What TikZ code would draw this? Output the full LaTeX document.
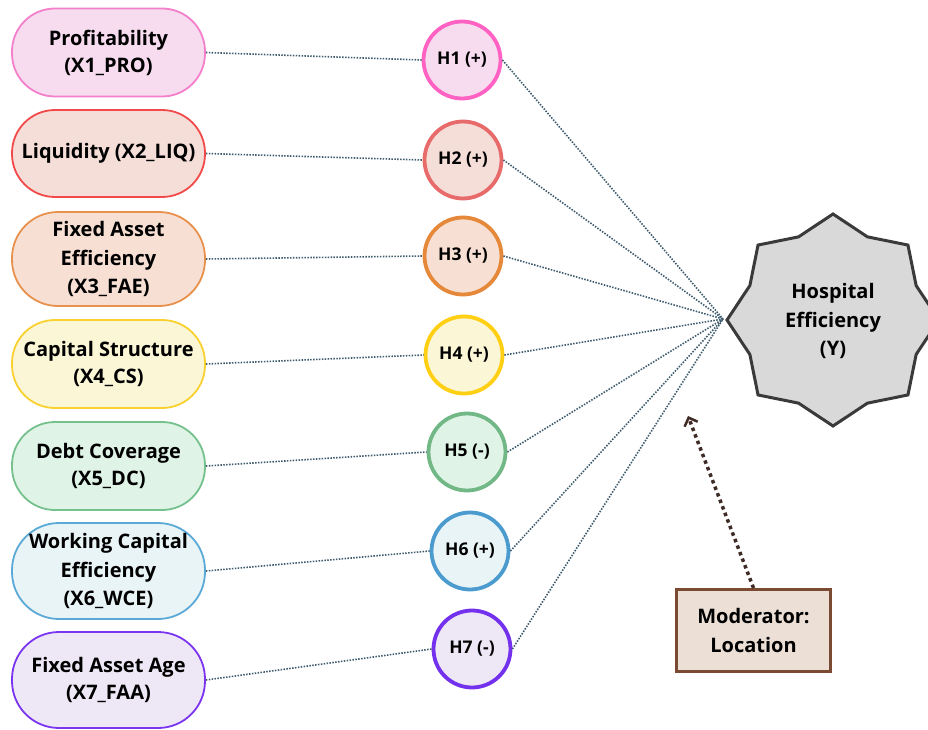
\documentclass[tikz,border=0pt]{standalone}
\usepackage{fontspec}
\setmainfont{Open Sans}
\usetikzlibrary{arrows.meta}
\definecolor{pkB}{HTML}{F47FCB}\definecolor{pkH}{HTML}{FF62C2}\definecolor{pkF}{HTML}{F6DCEE}
\definecolor{rdB}{HTML}{F24A4A}\definecolor{rdH}{HTML}{E86B6B}\definecolor{rdF}{HTML}{F5DDD8}
\definecolor{orB}{HTML}{E8914D}\definecolor{orH}{HTML}{E6883A}\definecolor{orF}{HTML}{F7DFD4}
\definecolor{ylB}{HTML}{F8D12F}\definecolor{ylH}{HTML}{FFCF14}\definecolor{ylF}{HTML}{FAF6D6}
\definecolor{gnB}{HTML}{75C18E}\definecolor{gnH}{HTML}{72B886}\definecolor{gnF}{HTML}{DFF4E6}
\definecolor{blB}{HTML}{5AA9D6}\definecolor{blH}{HTML}{4B9BCE}\definecolor{blF}{HTML}{E9F4F7}
\definecolor{vtB}{HTML}{7B35F0}\definecolor{vtH}{HTML}{7431ED}\definecolor{vtF}{HTML}{EEE8F6}
\definecolor{linkC}{HTML}{3E5B6E}
\definecolor{starF}{HTML}{D9D9D9}\definecolor{starB}{HTML}{3A3A3A}
\definecolor{modF}{HTML}{ECDFD6}\definecolor{modB}{HTML}{7B4A33}\definecolor{modA}{HTML}{3F2B25}
\newcommand{\bigtxt}{\fontsize{20}{27}\selectfont\bfseries}
\newcommand{\bigtxtw}{\fontsize{20}{28.5}\selectfont\bfseries}
\tikzset{
  varbox/.style={draw, line width=1.8pt, rounded corners=#1, minimum width=193pt, align=center,
    inner sep=0pt, font=\bigtxt},
  hyp/.style={circle, draw, line width=3.8pt, minimum size=77pt, inner sep=0pt,
    font=\fontsize{17.5}{20}\selectfont\bfseries},
  link/.style={draw=linkC, line width=1.6pt, dash pattern=on 1.5pt off 1.4pt},
  modlink/.style={draw=modA, line width=3.5pt, dash pattern=on 3.5pt off 3.5pt,
    -{Straight Barb[length=7pt,width=14pt,line width=2.5pt]}},
}
\begin{document}
\begin{tikzpicture}[x=1pt,y=-1pt]
\useasboundingbox (0,0) rectangle (928,730);
\begin{scope}
\clip (0,0) rectangle (928,730);
% star
\draw[fill=starF, draw=starB, line width=3pt]
  plot[samples at={0,22.5,...,337.5}] ({833+(mod(\x,45)==0 ? 106 : 90)*cos(\x)}, {320+(mod(\x,45)==0 ? 106 : 90)*sin(\x)}) -- cycle;
\end{scope}
\node[font=\bigtxtw, align=center] (y) at (833,321) {Hospital\\Efficiency\\(Y)};
\coordinate (hub) at (723,319);

% variable boxes
\node[varbox=43pt, fill=pkF, draw=pkB, minimum height=88pt] (b1) at (108.5,52.5) {Profitability\\(X1\_PRO)};
\node[varbox=43pt, fill=rdF, draw=rdB, minimum height=87pt] (b2) at (108.5,153.5) {Liquidity (X2\_LIQ)};
\node[varbox=46pt, fill=orF, draw=orB, minimum height=94pt, font=\bigtxtw] (b3) at (108.5,259) {Fixed Asset\\Efficiency\\(X3\_FAE)};
\node[varbox=43pt, fill=ylF, draw=ylB, minimum height=88pt] (b4) at (108.5,364) {Capital Structure\\(X4\_CS)};
\node[varbox=43pt, fill=gnF, draw=gnB, minimum height=88pt] (b5) at (108.5,466) {Debt Coverage\\(X5\_DC)};
\node[varbox=47pt, fill=blF, draw=blB, minimum height=96pt, font=\bigtxtw] (b6) at (108.5,571) {Working Capital\\Efficiency\\(X6\_WCE)};
\node[varbox=47pt, fill=vtF, draw=vtB, minimum height=96pt] (b7) at (108.5,680) {Fixed Asset Age\\(X7\_FAA)};

% hypotheses
\node[hyp, fill=pkF, draw=pkH] (h1) at (462,60) {H1 (+)};
\node[hyp, fill=rdF, draw=rdH] (h2) at (463,160) {H2 (+)};
\node[hyp, fill=orF, draw=orH] (h3) at (463,256) {H3 (+)};
\node[hyp, fill=ylF, draw=ylH] (h4) at (464,355) {H4 (+)};
\node[hyp, fill=gnF, draw=gnH] (h5) at (467,452) {H5 (-)};
\node[hyp, fill=blF, draw=blH] (h6) at (470,551) {H6 (+)};
\node[hyp, fill=vtF, draw=vtH] (h7) at (472,649) {H7 (-)};

\foreach \i in {1,...,7}{
  \draw[link] (b\i.east) -- (h\i.west);
  \draw[link] (h\i.east) -- (hub);
}

% moderator
\node[draw=modB, fill=modF, line width=3pt, minimum width=154pt, minimum height=82pt, align=center,
  font=\bigtxtw] (mod) at (753.5,630.5) {Moderator:\\Location};
\coordinate (modtip) at (688,416);
\draw[modlink] (mod.north) -- (modtip);
\end{tikzpicture}
\end{document}
